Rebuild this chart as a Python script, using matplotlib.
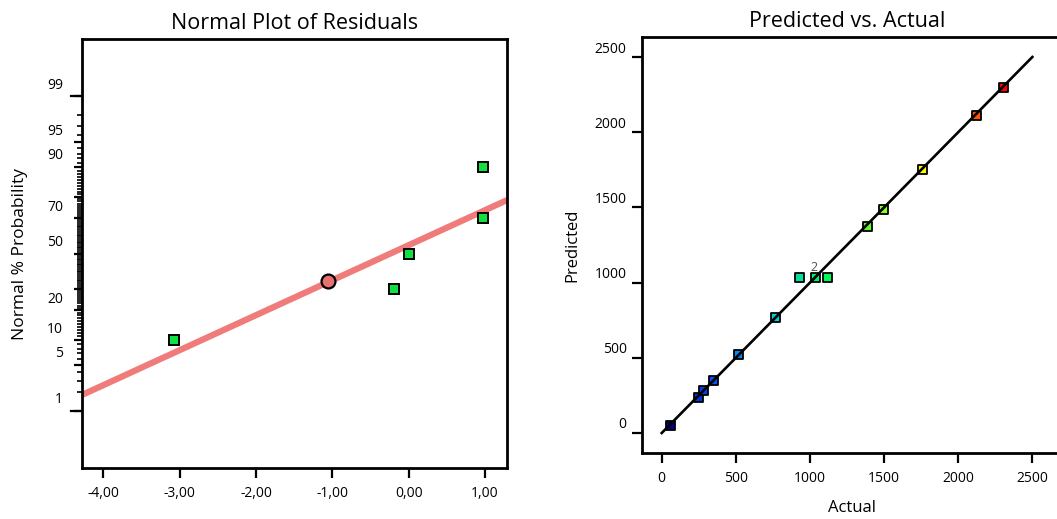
import numpy as np
import matplotlib
matplotlib.use('Agg')
import matplotlib.pyplot as plt
import matplotlib.transforms as mtransforms
from matplotlib.colors import LinearSegmentedColormap
from statistics import NormalDist

plt.rcParams['font.family'] = ['Open Sans', 'DejaVu Sans']

# DATA - normal plot of residuals
resid_x = [-3.08, -0.19, 0.00, 0.98, 0.98]
resid_pct = [10, 30, 50, 70, 90]
hl_x = [-1.05]
hl_pct = [34]
fit_line_x = [-4.28, 1.29]
fit_line_pct = [1.83, 78.5]

prob_labels = [1, 5, 10, 20, 50, 70, 90, 95, 99]
prob_major = [1, 5, 10, 20, 30, 50, 70, 80, 90, 95, 99]
resid_ticks = [-4, -3, -2, -1, 0, 1]
resid_ticklabels = ['-4,00', '-3,00', '-2,00', '-1,00', '0,00', '1,00']

# DATA - predicted vs actual
actual = [61, 245, 283, 346, 521, 768, 930, 1038, 1119, 1386, 1496, 1757, 2121, 2307]
predicted = [53, 237, 281, 346, 519, 769, 1031, 1031, 1031, 1372, 1487, 1749, 2108, 2298]
diag_x = [0, 2500]
pva_ticks = [0, 500, 1000, 1500, 2000, 2500]
dup_x, dup_y, dup_n = 1030, 1060, '2'

nd = NormalDist()
def to_z(p):
    return [nd.inv_cdf(v / 100.0) for v in p]

fig = plt.figure(figsize=(10.57, 5.19), dpi=100)

# LEFT: normal plot
ax1 = fig.add_axes([82 / 1057, 1 - 468 / 519, 425 / 1057, 429 / 519])
ax1.plot(fit_line_x, to_z(fit_line_pct), color='#f07474', linewidth=4.5, alpha=0.95,
         solid_capstyle='butt', zorder=2)
ax1.plot(resid_x, to_z(resid_pct), 's', markersize=6.5, markerfacecolor='#10e040',
         markeredgecolor='black', markeredgewidth=1.4, zorder=3)
ax1.plot(hl_x, to_z(hl_pct), 'o', markersize=10, markerfacecolor='#e87070',
         markeredgecolor='black', markeredgewidth=1.6, zorder=4)

ax1.set_xlim(-4.28, 1.29)
ax1.set_ylim(-3.17, 3.17)
ax1.set_xticks(resid_ticks)
ax1.set_xticklabels(resid_ticklabels)
ax1.set_yticks(to_z(prob_major))
ax1.set_yticklabels([str(p) if p in prob_labels else '' for p in prob_major])
minor_pct = [p for p in range(2, 99) if p not in prob_major]
ax1.set_yticks(to_z(minor_pct), minor=True)
ax1.tick_params(axis='x', direction='out', length=7, width=1.6, labelsize=10, pad=6)
ax1.tick_params(axis='y', which='major', direction='out', length=5.5, width=1.6,
                labelsize=10, pad=8)
ax1.tick_params(axis='y', which='minor', direction='out', length=3.5, width=1.2)
# long ticks at 1 and 99
trans = mtransforms.blended_transform_factory(ax1.transAxes, ax1.transData)
for p in [1, 99]:
    z = nd.inv_cdf(p / 100.0)
    ax1.plot([-0.026, 0], [z, z], color='black', linewidth=1.6, transform=trans,
             clip_on=False)
off = mtransforms.ScaledTranslation(0, 0.13, fig.dpi_scale_trans)
for lbl in ax1.get_yticklabels():
    lbl.set_transform(lbl.get_transform() + off)
for s in ax1.spines.values():
    s.set_linewidth(2.0)
ax1.set_title('Normal Plot of Residuals', fontsize=15.5, pad=7)
ax1.set_ylabel('Normal % Probability', fontsize=12.5, labelpad=14)

# RIGHT: predicted vs actual
cmap = LinearSegmentedColormap.from_list(
    'de', [(0, '#00008b'), (0.12, '#0050ff'), (0.3, '#00c8e8'), (0.5, '#00ff40'),
           (0.75, '#ffff00'), (1, '#ff0000')])
ax2 = fig.add_axes([642 / 1057, 1 - 453 / 519, 420 / 1057, 416 / 519])
ax2.scatter(actual, predicted, c=actual, cmap=cmap, marker='s', s=42,
            edgecolors='black', linewidths=1.3, zorder=2)
ax2.plot(diag_x, diag_x, color='black', linewidth=1.9, zorder=3)
ax2.text(dup_x, dup_y, dup_n, fontsize=9, color='#505050', ha='center', va='bottom')
ax2.set_xlim(-133, 2700)
ax2.set_ylim(-133, 2633)
ax2.set_xticks(pva_ticks)
ax2.set_yticks(pva_ticks)
ax2.tick_params(axis='both', direction='out', length=7, width=1.6, labelsize=10)
ax2.tick_params(axis='x', pad=6)
ax2.tick_params(axis='y', pad=4)
off2 = mtransforms.ScaledTranslation(0, 0.10, fig.dpi_scale_trans)
for lbl in ax2.get_yticklabels():
    lbl.set_transform(lbl.get_transform() + off2)
for s in ax2.spines.values():
    s.set_linewidth(2.0)
ax2.set_title('Predicted vs. Actual', fontsize=15.5, pad=7, x=0.488)
ax2.set_xlabel('Actual', fontsize=12, labelpad=10)
ax2.set_ylabel('Predicted', fontsize=12, labelpad=10)

fig.savefig('out.png', dpi=100)
